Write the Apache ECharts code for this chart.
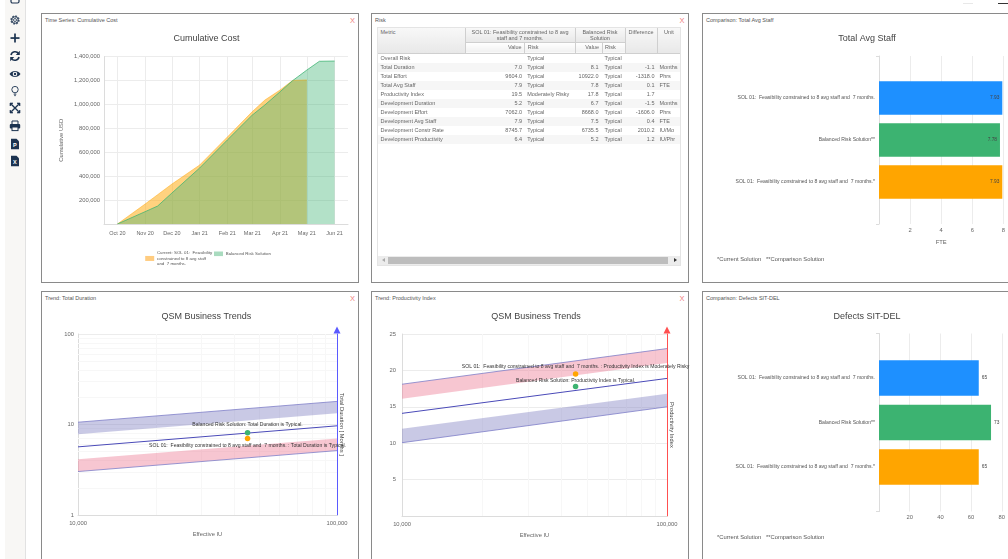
<!DOCTYPE html>
<html>
<head>
<meta charset="utf-8">
<title>Solution dashboard</title>
<script src="https://cdn.jsdelivr.net/npm/echarts@6/dist/echarts.min.js"></script>
<style>
  html, body { margin: 0; padding: 0; background: #fff; width: 1008px; height: 559px; overflow: hidden; font-family: "Liberation Sans", Arial, sans-serif; }
  #chart { position: absolute; left: 0; top: 0; width: 1008px; height: 559px; z-index: 2; }
  .panel { position: absolute; box-sizing: border-box; border: 1.4px solid #8a8a8a; background: #fff; }
  .panel .cap { position: absolute; left: 3px; top: 3px; font-size: 5.5px; line-height: 7px; color: #555; white-space: nowrap; }
  .panel .close { position: absolute; right: 3px; top: 1.5px; font-size: 7.5px; line-height: 9px; color: #f08080; }
  .note { position: absolute; font-size: 5.8px; line-height: 7px; color: #555; white-space: pre; z-index: 3; }
  #side { position: absolute; left: 5px; top: 0; width: 20px; height: 559px; background: #f8f7f5; border-right: 1px solid #e2e2e2; }
  #side svg { position: absolute; left: 4px; width: 12px; height: 12px; }
  #topA, #topB { position: absolute; height: 1px; top: 3px; }
  #topA { left: 963px; width: 10px; background: #e8e8e8; }
  #topB { left: 998px; width: 10px; background: #333; }
  #riskWrap { position: absolute; left: 377px; top: 27px; width: 303.5px; height: 239px; box-sizing: border-box; border: 1px solid #e4e4e4; z-index: 3; overflow: hidden; }
  #risk { border-collapse: collapse; table-layout: fixed; width: 303px; font-size: 5.5px; color: #666; }
  #risk td, #risk th { padding: 0 2.5px; line-height: 9.1px; height: 9.1px; white-space: nowrap; overflow: hidden; font-weight: normal; text-align: left; }
  #risk th { background: linear-gradient(#f8f8f8, #e8e8e8); border-right: 1px solid #cfcfcf; border-bottom: 1px solid #cfcfcf; vertical-align: top; white-space: normal; line-height: 6px; padding-top: 1px; }
  #risk th.c { text-align: center; }
  #risk th.sub { background: linear-gradient(#fff, #f0f0f0); line-height: 7px; padding-top: 1.5px; height: 8.5px; }
  #risk .r { text-align: right; }
  #risk td:nth-child(4) { padding-right: 3.5px; }
  #risk td:last-child { padding-right: 0; }
  #risk tbody tr:nth-child(even) td { background: #f6f6f6; }
  #scroll { position: absolute; left: 0; bottom: 0; right: 0; height: 9.5px; background: #ececec; }
  #scroll i { position: absolute; left: 10px; right: 11.5px; top: 1.5px; bottom: 1.5px; background: #bdbdbd; }
  #scroll b { position: absolute; top: 2.5px; width: 0; height: 0; border-top: 2.2px solid transparent; border-bottom: 2.2px solid transparent; }
  #scroll b.l { left: 4px; border-right: 3px solid #aaa; }
  #scroll b.g { right: 3px; border-left: 3px solid #333; }
</style>
</head>
<body>
<div id="side"></div>
<div id="topA"></div><div id="topB"></div>

<div class="panel" style="left:41px;top:13px;width:318px;height:270px"><div class="cap">Time Series: Cumulative Cost</div><div class="close">X</div></div>
<div class="panel" style="left:371px;top:13px;width:317.5px;height:270px"><div class="cap">Risk</div><div class="close">X</div></div>
<div class="panel" style="left:702px;top:13px;width:320px;height:270px"><div class="cap">Comparison: Total Avg Staff</div></div>
<div class="panel" style="left:41px;top:291px;width:318px;height:290px"><div class="cap">Trend: Total Duration</div><div class="close">X</div></div>
<div class="panel" style="left:371px;top:291px;width:317.5px;height:290px"><div class="cap">Trend: Productivity Index</div><div class="close">X</div></div>
<div class="panel" style="left:702px;top:291px;width:320px;height:290px"><div class="cap">Comparison: Defects SIT-DEL</div></div>

<div id="riskWrap"><table id="risk"></table><div id="scroll"><b class="l"></b><i></i><b class="g"></b></div></div>
<div class="note" style="left:717px;top:255.5px">*Current Solution   **Comparison Solution</div>
<div class="note" style="left:717px;top:534px">*Current Solution   **Comparison Solution</div>

<div id="chart"></div>

<script>
// Cumulative cost, by date
const costDates = ['2020-10-01','2020-11-01','2020-11-15','2020-12-01','2021-01-01','2021-02-01','2021-03-01','2021-03-15','2021-04-01','2021-04-15','2021-05-01','2021-05-15','2021-06-01'];
const costCurrent = [0, 167000, 245000, 334000, 493000, 727000, 940000, 1036000, 1120000, 1200000, 1204000, null, null];
const costBalanced = [0, 103000, 150000, 259000, 468000, 702000, 911000, 995000, 1105000, 1198000, 1287000, 1360000, 1362000];
const costTickDates = ['2020-10-01','2020-11-01','2020-12-01','2021-01-01','2021-02-01','2021-03-01','2021-04-01','2021-05-01','2021-06-01'];
const monthNames = ['Jan','Feb','Mar','Apr','May','Jun','Jul','Aug','Sep','Oct','Nov','Dec'];

// Comparison bars
const solutionCurrent = 'SOL 01:  Feasibility constrained to 8 avg staff and  7 months.';
const solutionBalanced = 'Balanced Risk Solution';
const compareCategories = ['', solutionCurrent, solutionBalanced + '**', solutionCurrent + '*', ''];
const staffValues = [null, 7.93, 7.78, 7.93, null];
const defectValues = [null, 65, 73, 65, null];
const compareColors = ['#1e90ff', '#3cb371', '#ffa500'];

// Trend lines: value at 10,000 and at 100,000 effective IU
const trendIU = [10000, 100000];
const minorIU = [20000, 30000, 40000, 50000, 60000, 70000, 80000, 90000];
const minorMonths = [2, 3, 4, 5, 6, 7, 8, 9, 20, 30, 40, 50, 60, 70, 80, 90];

const durationHighTop = [10.6, 18];
const durationHighBottom = [7.8, 13.3];
const durationMiddle = [5.66, 9.67];
const durationLowTop = [4.13, 7];
const durationLowBottom = [3.02, 5.15];
const durationBalanced = [45150, 8.1];
const durationCurrent = [45150, 7.0];

const piHighTop = [18.1, 23];
const piHighBottom = [16.1, 21];
const piMiddle = [14.1, 18.9];
const piLowTop = [12, 16.8];
const piLowBottom = [10.07, 15];
const piBalanced = [45190, 17.8];
const piCurrent = [45190, 19.5];

// Risk table
const riskColumns = ['Metric', 'SOL 01: Feasibility constrained to 8 avg staff and 7 months.', 'Balanced Risk Solution', 'Difference', 'Unit'];
const riskRows = [
  ['Overall Risk', '', 'Typical', '', 'Typical', '', ''],
  ['Total Duration', '7.0', 'Typical', '8.1', 'Typical', '-1.1', 'Months'],
  ['Total Effort', '9604.0', 'Typical', '10922.0', 'Typical', '-1318.0', 'Phrs'],
  ['Total Avg Staff', '7.9', 'Typical', '7.8', 'Typical', '0.1', 'FTE'],
  ['Productivity Index', '19.5', 'Moderately Risky', '17.8', 'Typical', '1.7', ''],
  ['Development Duration', '5.2', 'Typical', '6.7', 'Typical', '-1.5', 'Months'],
  ['Development Effort', '7062.0', 'Typical', '8668.0', 'Typical', '-1606.0', 'Phrs'],
  ['Development Avg Staff', '7.9', 'Typical', '7.5', 'Typical', '0.4', 'FTE'],
  ['Development Constr Rate', '8745.7', 'Typical', '6735.5', 'Typical', '2010.2', 'IU/Mo'],
  ['Development Productivity', '6.4', 'Typical', '5.2', 'Typical', '1.2', 'IU/Phr']
];

// --- table ---
const colWidths = [87, 59.7, 50.3, 27, 23, 32, 24];
let html = '<colgroup>' + colWidths.map(w => `<col style="width:${w}px">`).join('') + '</colgroup><thead>';
html += `<tr style="height:14px"><th rowspan="2">${riskColumns[0]}</th><th class="c" colspan="2">${riskColumns[1]}</th><th class="c" colspan="2">${riskColumns[2]}</th><th class="c" rowspan="2">${riskColumns[3]}</th><th class="c" rowspan="2">${riskColumns[4]}</th></tr>`;
html += '<tr><th class="sub r">Value</th><th class="sub">Risk</th><th class="sub r">Value</th><th class="sub">Risk</th></tr></thead><tbody>';
riskRows.forEach(r => {
  html += '<tr>' + r.map((c, i) => `<td class="${[1, 3, 5].includes(i) ? 'r' : ''}">${c}</td>`).join('') + '</tr>';
});
document.getElementById('risk').innerHTML = html + '</tbody>';

// --- toolbar icons ---
const ink = '#1c3350';
const icons = [
  [-7, `<rect x="2" y="1" width="8" height="9" rx="1.5" fill="none" stroke="${ink}" stroke-width="1.2"/><circle cx="6" cy="5" r="2" fill="${ink}"/>`],
  [14, `<circle cx="6" cy="6" r="3.6" fill="none" stroke="${ink}" stroke-width="2.2" stroke-dasharray="1.6 1.2" opacity=".75"/><circle cx="6" cy="6" r="3.4" fill="none" stroke="${ink}" stroke-width=".8"/><circle cx="6" cy="6" r="1.5" fill="none" stroke="${ink}" stroke-width=".8"/>`],
  [32, `<rect x="1.5" y="5.2" width="9" height="1.7" fill="${ink}"/><rect x="5.15" y="1.5" width="1.7" height="9" fill="${ink}"/>`],
  [50, `<path d="M2 5 A4.2 4.2 0 0 1 9.6 3.6 M10 7 A4.2 4.2 0 0 1 2.4 8.4" fill="none" stroke="${ink}" stroke-width="1.6"/><path d="M10.8 .8V5H6.8Z M1.2 11.2V7H5.2Z" fill="${ink}"/>`],
  [68, `<path d="M.5 6 C3 2 9 2 11.5 6 C9 10 3 10 .5 6Z" fill="${ink}"/><circle cx="6" cy="6" r="2.3" fill="#f8f7f5"/><circle cx="6" cy="6" r="1.2" fill="${ink}"/>`],
  [85, `<circle cx="6" cy="4.6" r="3.2" fill="none" stroke="${ink}" stroke-width=".9"/><rect x="4.7" y="8.6" width="2.6" height="1" fill="${ink}"/><rect x="5.2" y="10.2" width="1.6" height=".9" fill="${ink}"/>`],
  [102, `<path d="M2.5 2.5L9.5 9.5M9.5 2.5L2.5 9.5" stroke="${ink}" stroke-width="1.4"/><path d="M1 1H4L1 4Z M11 1H8L11 4Z M1 11H4L1 8Z M11 11H8L11 8Z" fill="${ink}" stroke="${ink}" stroke-width=".6"/>`],
  [120, `<path d="M3 4V1H9V4" fill="none" stroke="${ink}" stroke-width="1"/><rect x=".8" y="4" width="10.4" height="4.6" rx="1" fill="${ink}"/><rect x="3" y="7" width="6" height="3.6" fill="#f8f7f5" stroke="${ink}"/>`],
  [138, `<path d="M2 .8H7.5L10 3.3V11.2H2Z" fill="${ink}"/><text x="4" y="9" font-size="5.5" font-weight="bold" fill="#fff" font-family="Liberation Sans">P</text>`],
  [155, `<path d="M2 .8H7.5L10 3.3V11.2H2Z" fill="${ink}"/><text x="4" y="9" font-size="5.5" font-weight="bold" fill="#fff" font-family="Liberation Sans">X</text>`]
];
document.getElementById('side').innerHTML = icons.map(([y, body]) => `<svg viewBox="0 0 12 12" style="top:${y}px">${body}</svg>`).join('');

// --- charts ---
const tickColor = '#666';
const gridColor = '#ececec';
const axisColor = '#dcdcdc';
const money = v => v === 0 ? '' : v.toLocaleString('en-US');
const ms = s => { const p = s.split('-').map(Number); return new Date(p[0], p[1] - 1, p[2]).getTime(); };
const monthLabel = v => { const d = new Date(v); return monthNames[d.getMonth()] + ' ' + String(d.getFullYear()).slice(2); };

const chart = echarts.init(document.getElementById('chart'), null, { renderer: 'canvas' });

const grids = [
  { left: 104, top: 56.5, width: 244, height: 167.5 },
  { left: 879, top: 56, right: 4, height: 168 },
  { left: 78, top: 334, width: 259, height: 181 },
  { left: 402, top: 334, width: 265, height: 182 },
  { left: 879, top: 333.5, right: 5, height: 178 }
];

const plainSplit = { show: true, lineStyle: { color: gridColor, width: 1 } };
const line = (c) => ({ show: true, lineStyle: { color: c, width: 1 } });

function logXAxis(gridIndex) {
  return {
    type: 'log', gridIndex, min: 10000, max: 100000, logBase: 10,
    name: 'Effective IU', nameLocation: 'middle', nameGap: 16,
    nameTextStyle: { color: tickColor, fontSize: 5.8 },
    axisLine: line(axisColor), axisTick: { show: false },
    axisLabel: { color: tickColor, fontSize: 5.8, margin: 5, formatter: money },
    splitLine: { show: false }
  };
}

function rightArrowAxis(gridIndex, type, min, max, title, color) {
  return {
    type, gridIndex, min, max, position: 'right',
    name: title, nameLocation: 'middle', nameRotate: -90, nameGap: 2,
    nameTextStyle: { color: '#444', fontSize: 5.8 },
    axisLine: { show: true, onZero: false, symbol: ['none', 'triangle'], symbolSize: [7, 7], symbolOffset: [0, 4], lineStyle: { color, width: 1 } },
    axisTick: { show: false }, axisLabel: { show: false }, splitLine: { show: false }
  };
}

function compareYAxis(gridIndex) {
  return {
    type: 'category', gridIndex, inverse: true, data: compareCategories, boundaryGap: false,
    axisLine: line(axisColor),
    axisTick: { show: true, length: 3, interval: i => i === 0 || i === 4, lineStyle: { color: axisColor } },
    axisLabel: { color: '#555', fontSize: 5.1, margin: 4, interval: 0 },
    splitLine: { show: false }
  };
}

function compareXAxis(gridIndex, max, interval, extra) {
  return Object.assign({
    type: 'value', gridIndex, min: 0, max, interval,
    axisLine: { show: false }, axisTick: { show: false },
    axisLabel: { color: tickColor, fontSize: 5.8, margin: 3, formatter: v => v === 0 ? '' : String(v) },
    splitLine: plainSplit
  }, extra || {});
}

function compareBars(xAxisIndex, yAxisIndex, values, barWidth, labelPos) {
  return {
    type: 'bar', xAxisIndex, yAxisIndex, barWidth,
    data: values.map(v => v),
    itemStyle: { color: p => compareColors[p.dataIndex - 1] },
    label: { show: true, position: labelPos, distance: 3, color: '#444', fontSize: 4.8, formatter: p => p.value }
  };
}

// band polygon between two edge lines, mapped through the axes of the grid
function bandSeries(xAxisIndex, yAxisIndex, top, bottom, fill) {
  return {
    type: 'custom', xAxisIndex, yAxisIndex, silent: true, z: 2,
    data: [[trendIU[0], top[0], bottom[0], trendIU[1], top[1], bottom[1]]],
    encode: { x: [0, 3], y: [1, 2, 4, 5] },
    renderItem: (params, api) => ({
      type: 'polygon',
      shape: { points: [
        api.coord([api.value(0), api.value(1)]),
        api.coord([api.value(3), api.value(4)]),
        api.coord([api.value(3), api.value(5)]),
        api.coord([api.value(0), api.value(2)])
      ] },
      style: { fill }
    })
  };
}

function trendLine(xAxisIndex, yAxisIndex, values, color, width) {
  return {
    type: 'line', xAxisIndex, yAxisIndex, silent: true, symbol: 'none', z: 3,
    data: trendIU.map((x, i) => [x, values[i]]),
    lineStyle: { color, width }
  };
}

function trendPoint(xAxisIndex, yAxisIndex, point, color, text, pos, distance) {
  return {
    type: 'scatter', xAxisIndex, yAxisIndex, symbolSize: 5.5, z: 5, clip: false,
    data: [point],
    itemStyle: { color, opacity: 1 },
    label: { show: true, position: pos, distance, color: '#333', fontSize: 5.1, formatter: text }
  };
}

function minorLines(xAxisIndex, yAxisIndex, xs, ys) {
  return {
    type: 'line', xAxisIndex, yAxisIndex, data: [], silent: true, z: 1,
    markLine: {
      z: 1, silent: true, symbol: 'none', animation: false, label: { show: false },
      lineStyle: { color: '#f7f7f7', width: 1, type: 'solid' },
      data: xs.map(v => ({ xAxis: v })).concat(ys.map(v => ({ yAxis: v })))
    }
  };
}

const bandBlue = 'rgba(130,130,195,0.43)';
const bandRed = 'rgba(235,120,145,0.42)';
const edgeBlue = '#7d7dc8';
const midBlue = '#4a4ab8';

const balancedLegend = 'Balanced Risk Solution';
const currentLegend = 'Current: SOL 01:  Feasibility constrained to 8 avg staff and  7 months.';

// The swatches are narrow rects widened by a same-coloured border, which keeps the text close to them.
chart.setOption({
  animation: false,
  title: [
    { text: 'Cumulative Cost', left: 201.5, top: 29.5 },
    { text: 'Total Avg Staff', left: 862, top: 29.5 },
    { text: 'QSM Business Trends', left: 201.3, top: 307.5 },
    { text: 'QSM Business Trends', left: 531, top: 307.5 },
    { text: 'Defects SIT-DEL', left: 862, top: 307.5 }
  ].map(t => Object.assign(t, { textAlign: 'center', textStyle: { color: '#444', fontSize: 9, fontWeight: 'normal' } })),
  legend: [
    { data: [currentLegend], left: 140.2, top: 245.5, itemWidth: 4.5, itemHeight: 0.5, icon: 'rect', selectedMode: false,
      itemStyle: { color: '#ffcc80', borderColor: '#ffcc80', borderWidth: 4.5 },
      formatter: () => 'Current: SOL 01:  Feasibility\nconstrained to 8 avg staff\nand  7 months.',
      textStyle: { fontSize: 4.4, lineHeight: 5.3, color: '#555' } },
    { data: [balancedLegend], left: 209, top: 246.5, itemWidth: 4.5, itemHeight: 0.1, icon: 'rect', selectedMode: false,
      itemStyle: { color: '#a9dbbf', borderColor: '#a9dbbf', borderWidth: 4.5 },
      textStyle: { fontSize: 4.4, color: '#555' } }
  ],
  grid: grids,
  xAxis: [
    { type: 'value', gridIndex: 0, min: ms('2020-09-16'), max: ms('2021-06-16'),
      axisLine: line(axisColor), axisTick: { show: false, customValues: costTickDates.map(ms) },
      axisLabel: { color: tickColor, fontSize: 5.5, margin: 6, customValues: costTickDates.map(ms), formatter: monthLabel, hideOverlap: false },
      splitLine: plainSplit },
    compareXAxis(1, 8, 2, { name: 'FTE', nameLocation: 'middle', nameGap: 15, nameTextStyle: { color: tickColor, fontSize: 5.8 } }),
    logXAxis(2),
    logXAxis(3),
    compareXAxis(4, 80, 20)
  ],
  yAxis: [
    { type: 'value', gridIndex: 0, min: 0, max: 1400000, interval: 200000,
      name: 'Cumulative USD', nameLocation: 'middle', nameRotate: 90, nameGap: 40,
      nameTextStyle: { color: tickColor, fontSize: 5.8 },
      axisLine: line(axisColor), axisTick: { show: false },
      axisLabel: { color: tickColor, fontSize: 5.85, margin: 4, formatter: money },
      splitLine: plainSplit },
    compareYAxis(1),
    { type: 'log', gridIndex: 2, min: 1, max: 100, logBase: 10,
      axisLine: line(axisColor), axisTick: { show: false },
      axisLabel: { color: tickColor, fontSize: 5.8, margin: 4 },
      splitLine: plainSplit },
    rightArrowAxis(2, 'log', 1, 100, 'Total Duration [ Months ]', '#5a5aff'),
    { type: 'value', gridIndex: 3, min: 0, max: 25, interval: 5,
      axisLine: line(axisColor), axisTick: { show: false },
      axisLabel: { color: tickColor, fontSize: 5.8, margin: 6, formatter: v => v === 0 ? '' : String(v) },
      splitLine: plainSplit },
    rightArrowAxis(3, 'value', 0, 25, 'Productivity Index', '#ff5050'),
    compareYAxis(4)
  ],
  series: [
    { name: currentLegend, type: 'line', xAxisIndex: 0, yAxisIndex: 0, symbol: 'none',
      data: costDates.map((d, i) => [ms(d), costCurrent[i]]).filter(p => p[1] !== null),
      lineStyle: { color: 'rgba(255,165,0,0.45)', width: 1 },
      itemStyle: { color: '#ffcc80' },
      areaStyle: { color: 'rgba(255,165,0,0.5)', opacity: 1, origin: 'start' } },
    { name: balancedLegend, type: 'line', xAxisIndex: 0, yAxisIndex: 0, symbol: 'none',
      data: costDates.map((d, i) => [ms(d), costBalanced[i]]),
      lineStyle: { color: 'rgba(60,179,113,0.75)', width: 1 },
      itemStyle: { color: '#b3dfc6' },
      areaStyle: { color: 'rgba(60,179,113,0.39)', opacity: 1, origin: 'start' } },

    compareBars(1, 1, staffValues, 33.5, 'insideRight'),
    compareBars(4, 6, defectValues, 35.6, 'right'),

    minorLines(2, 2, minorIU, minorMonths),
    bandSeries(2, 2, durationHighTop, durationHighBottom, bandBlue),
    bandSeries(2, 2, durationLowTop, durationLowBottom, bandRed),
    trendLine(2, 2, durationHighTop, edgeBlue, 0.8),
    trendLine(2, 2, durationMiddle, midBlue, 1),
    trendLine(2, 2, durationLowBottom, edgeBlue, 0.8),
    trendPoint(2, 2, durationBalanced, '#3cb371', 'Balanced Risk Solution: Total Duration is Typical.', 'top', 3),
    trendPoint(2, 2, durationCurrent, '#ffa500', 'SOL 01:  Feasibility constrained to 8 avg staff and  7 months. : Total Duration is Typical.', 'bottom', 1.5),

    minorLines(3, 4, minorIU, []),
    bandSeries(3, 4, piHighTop, piHighBottom, bandRed),
    bandSeries(3, 4, piLowTop, piLowBottom, bandBlue),
    trendLine(3, 4, piHighTop, edgeBlue, 0.8),
    trendLine(3, 4, piMiddle, midBlue, 1),
    trendLine(3, 4, piLowBottom, edgeBlue, 0.8),
    trendPoint(3, 4, piCurrent, '#ffa500', 'SOL 01:  Feasibility constrained to 8 avg staff and  7 months. : Productivity Index is Moderately Risky', 'top', 2.5),
    trendPoint(3, 4, piBalanced, '#3cb371', 'Balanced Risk Solution: Productivity Index is Typical.', 'top', 1)
  ]
});
</script>
</body>
</html>
